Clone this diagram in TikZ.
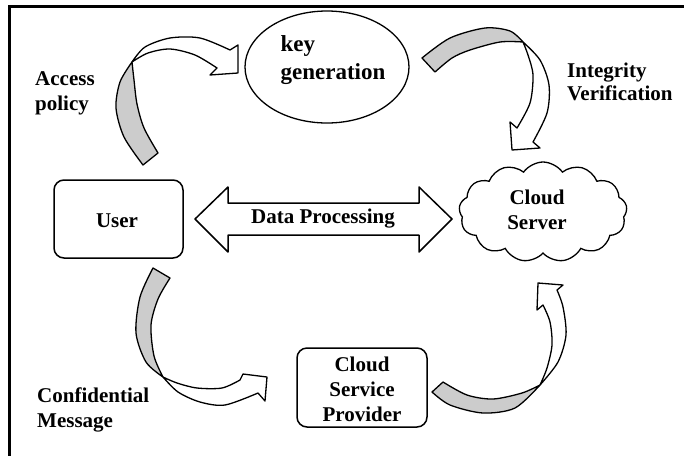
\documentclass[tikz,border=0pt]{standalone}
\usepackage{fontspec}
\setmainfont{Liberation Serif}
\usetikzlibrary{shapes.geometric,shapes.symbols}
\begin{document}
\begin{tikzpicture}[x=1pt,y=-1pt,
  lbl/.style={font=\fontsize{21}{25}\selectfont\bfseries, align=left, inner sep=0pt},
  ctxt/.style={font=\fontsize{21}{25}\selectfont\bfseries, align=center, inner sep=0pt},
  box/.style={draw, line width=1.5pt, rounded corners=10pt, inner sep=0pt},
  back/.style={draw, line width=1.3pt, fill=black!20, line join=round},
  front/.style={draw, line width=1.3pt, fill=white, line join=round},
  shapeline/.style={draw, line width=1.3pt},
]
\useasboundingbox (0,0) rectangle (684,456);
\fill[white] (0,0) rectangle (684,456);
\draw[line width=3pt] (684,6) -- (9,6) -- (9,456);

% nodes
\node[ellipse, shapeline, minimum width=164pt, minimum height=112pt, inner sep=0pt] (keygen) at (327,67) {};
\node[lbl, font=\fontsize{23}{28}\selectfont\bfseries] (keytext) at (333,60) {key\\generation};
\node[box, minimum width=129pt, minimum height=78pt] (user) at (118.5,219) {};
\node[ctxt] (usertext) at (117,221) {User};
\node[box, minimum width=130pt, minimum height=79pt] (csp) at (362,387.5) {};
\node[ctxt] (csptext) at (362,389) {Cloud\\Service\\Provider};
\node[cloud, shapeline, cloud puffs=13, cloud puff arc=110, cloud ignores aspect, minimum width=168pt, minimum height=100pt, inner sep=0pt] (cloud) at (543,212) {};
\node[ctxt] (cloudtext) at (537,210) {Cloud\\Server};

% labels
\node[lbl, anchor=west] (access) at (35,93) {Access\\policy};
\node[lbl, anchor=west, font=\fontsize{21}{23}\selectfont\bfseries] (integ) at (567,82) {Integrity\\Verification};
\node[lbl, anchor=west] (conf) at (37,410) {Confidential\\Message};

% data processing double arrow
\draw[front, line width=1.5pt] (195,219) -- (228,187) -- (228,203) -- (419,203) -- (419,187) -- (452,219)
  -- (419,252) -- (419,235) -- (228,235) -- (228,252) -- cycle;
\node[ctxt] (dp) at (323,219) {Data Processing};

% arrow 1: user -> key generation
\draw[back] plot[smooth] coordinates {(143,165) (124,137) (116,108) (120,82) (132,62)}
  -- plot[smooth] coordinates {(132,62) (134,80) (137,104) (144,128) (158,153)} -- cycle;
\draw[front] plot[smooth] coordinates {(132,62) (145,47) (170,38) (200,38) (230,50)}
  -- (238,45) -- (238,73) -- (210,75) -- (217,68)
  -- plot[smooth] coordinates {(217,68) (195,55) (170,49) (148,53) (132,62)} -- cycle;

% arrow 2: key generation -> cloud server
\draw[back] plot[smooth] coordinates {(422,58) (450,38) (485,28) (510,31) (523,42)}
  -- plot[smooth] coordinates {(523,42) (500,42) (470,50) (452,58) (435,72)} -- cycle;
\draw[front] plot[smooth] coordinates {(523,42) (540,60) (549,85) (547,113) (533,142)}
  -- (540,148) -- (512,150) -- (510,122) -- (517,128)
  -- plot[smooth] coordinates {(517,128) (530,103) (533,75) (528,55) (523,42)} -- cycle;

% arrow 3: user -> cloud service provider
\draw[back] plot[smooth] coordinates {(153,268) (140,297) (136,333) (146,362) (163,377)}
  -- plot[smooth] coordinates {(163,377) (154,356) (151,325) (158,299) (170,278)} -- cycle;
\draw[front] plot[smooth] coordinates {(163,377) (178,392) (200,402) (225,405) (258,393)}
  -- (265,401) -- (267,377) -- (243,374) -- (240,380)
  -- plot[smooth] coordinates {(240,380) (222,388) (197,388) (177,383) (163,377)} -- cycle;

% arrow 4: cloud service provider -> cloud server
\draw[back] plot[smooth] coordinates {(432,392) (450,405) (483,413) (515,408) (540,385)}
  -- plot[smooth] coordinates {(540,385) (522,393) (493,399) (467,395) (443,382)} -- cycle;
\draw[front] plot[smooth] coordinates {(540,385) (558,362) (566,335) (563,307) (557,290)}
  -- (563,285) -- (538,283) -- (537,310) -- (543,305)
  -- plot[smooth] coordinates {(543,305) (550,322) (552,345) (547,368) (540,385)} -- cycle;
\end{tikzpicture}
\end{document}
